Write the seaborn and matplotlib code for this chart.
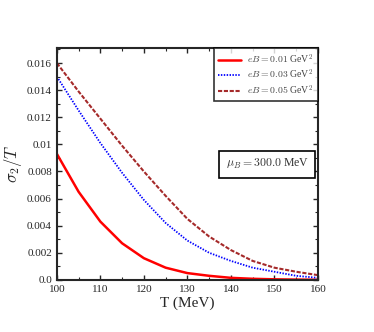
import numpy as np
import pandas as pd
import matplotlib
matplotlib.use("Agg")
import matplotlib.pyplot as plt
import seaborn as sns
from matplotlib.ticker import MultipleLocator, FixedLocator, FixedFormatter

# data
temps = [100, 105, 110, 115, 120, 125, 130, 135, 140, 145, 150, 155, 160]
sig_eb001 = [0.0093, 0.0065, 0.0043, 0.0027, 0.0016, 0.0009, 0.0005, 0.0003,
             0.00015, 0.00008, 0.00004, 0.00002, 0.00001]
sig_eb003 = [0.0150, 0.0125, 0.0101, 0.0079, 0.0059, 0.0042, 0.0029, 0.0020,
             0.0014, 0.0009, 0.0006, 0.0003, 0.00015]
sig_eb005 = [0.0160, 0.0139, 0.0119, 0.0099, 0.0080, 0.0062, 0.0045, 0.0032,
             0.0022, 0.0014, 0.0009, 0.0006, 0.00035]
labels = [r"$eB = 0.01$ GeV$^2$", r"$eB = 0.03$ GeV$^2$", r"$eB = 0.05$ GeV$^2$"]
ytick_vals = [0.0, 0.002, 0.004, 0.006, 0.008, 0.01, 0.012, 0.014, 0.016]
ytick_text = ["0.0", "0.002", "0.004", "0.006", "0.008", "0.01", "0.012", "0.014", "0.016"]
xtick_vals = [100, 110, 120, 130, 140, 150, 160]

sns.set_style("ticks")
plt.rcParams["font.family"] = ["Liberation Serif", "DejaVu Serif"]
plt.rcParams["mathtext.fontset"] = "cm"

fig = plt.figure(figsize=(3.74, 3.32), dpi=100)
ax = fig.add_axes([0.152, 0.157, 0.698, 0.698])

sns.lineplot(x=temps, y=sig_eb001, ax=ax, color="#ff0000", lw=1.8, label=labels[0])
sns.lineplot(x=temps, y=sig_eb003, ax=ax, color="#0000ff", lw=1.3, ls=(0, (0.8, 0.8)), label=labels[1])
sns.lineplot(x=temps, y=sig_eb005, ax=ax, color="#a52a2a", lw=1.5, ls=(0, (2, 0.8)), label=labels[2])

ax.set_xlim(100, 160)
ax.set_ylim(0, 0.0171)
ax.xaxis.set_major_locator(FixedLocator(xtick_vals))
ax.xaxis.set_minor_locator(MultipleLocator(5))
ax.yaxis.set_major_locator(FixedLocator(ytick_vals))
ax.yaxis.set_major_formatter(FixedFormatter(ytick_text))
ax.yaxis.set_minor_locator(MultipleLocator(0.001))
ax.tick_params(which="both", direction="in", top=True, right=True, labelsize=8)
ax.tick_params(which="major", length=3.5, width=1)
ax.tick_params(which="minor", length=2, width=0.8)
for s in ax.spines.values():
    s.set_linewidth(1.5)

ax.set_xlabel("T (MeV)", fontsize=11, labelpad=2)
ax.set_ylabel(r"$\sigma_2/T$", fontsize=12, labelpad=2)

leg = ax.legend(loc="upper right", bbox_to_anchor=(1.0, 1.0), borderaxespad=0.0,
                fontsize=7, frameon=True, fancybox=False, handlelength=2.4,
                handletextpad=0.6, labelspacing=0.2, borderpad=0.45)
leg.get_frame().set_edgecolor("black")
leg.get_frame().set_linewidth(1.2)
for t in leg.get_texts():
    t.set_color("#444444")

ax.text(0.806, 0.50, r"$\mu_B = 300.0$ MeV", transform=ax.transAxes, ha="center", va="center",
        fontsize=8.5, color="#333333",
        bbox=dict(boxstyle="square,pad=0.55", fc="white", ec="black", lw=1.2))

fig.savefig("out.png", dpi=100)
